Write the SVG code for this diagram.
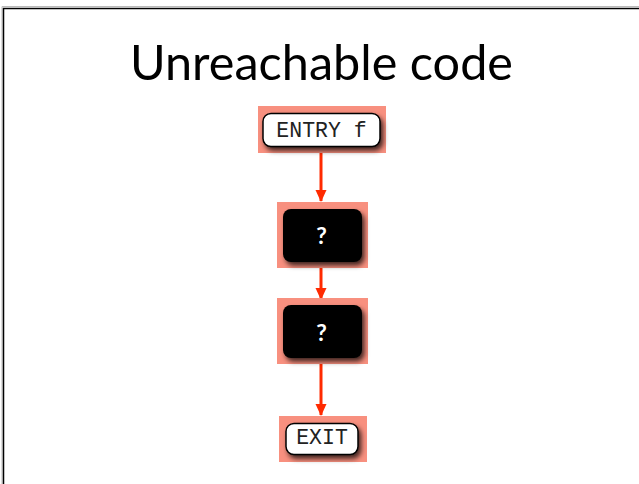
<svg xmlns="http://www.w3.org/2000/svg" width="639" height="484" viewBox="0 0 639 484">
<style>
  .hl { fill: #f8907f; }
  .wbox { fill: #ffffff; stroke: #000000; stroke-width: 1.5; filter: url(#sh); }
  .bbox { fill: #000000; filter: url(#sh); }
  .mono { font-family: "Liberation Mono", "Courier New", monospace; font-size: 21.5px; fill: #222222; text-anchor: middle; }
  .q { font-family: "Lato", "DejaVu Sans", sans-serif; font-size: 23px; font-weight: bold; fill: #ffffff; text-anchor: middle; }
  .edge { stroke: #ff2a00; stroke-width: 3; fill: none; marker-end: url(#ah); }
</style>
<defs>
  <filter id="sh" x="-20%" y="-30%" width="150%" height="170%">
    <feDropShadow dx="2.5" dy="3.5" stdDeviation="2.5" flood-color="#000000" flood-opacity="0.75"/>
  </filter>
  <marker id="ah" markerWidth="12" markerHeight="12" refX="11" refY="6" orient="auto" markerUnits="userSpaceOnUse">
    <path d="M0,0.5 L12,6 L0,11.5 Z" fill="#ff2a00"/>
  </marker>
</defs>
<rect width="639" height="484" fill="#ffffff"/>
<g id="frame">
  <path d="M2,484 V6.5 H639" stroke="#bbbbbb" stroke-width="1" fill="none"/>
  <path d="M3.5,484 V8.5 H639" stroke="#000000" stroke-width="1.5" fill="none"/>
</g>
<text id="title" x="321.5" y="80" font-family="Lato, 'Open Sans', sans-serif" font-size="48" fill="#000000" text-anchor="middle" textLength="383" lengthAdjust="spacingAndGlyphs">Unreachable code</text>
<g id="connectors">
  <line class="edge" x1="321" y1="153" x2="321" y2="201"/>
  <line class="edge" x1="321" y1="268" x2="321" y2="299"/>
  <line class="edge" x1="321" y1="364" x2="321" y2="415"/>
</g>
<g id="entry">
  <rect class="hl" x="258" y="106" width="128" height="47"/>
  <rect class="wbox" x="263" y="113.5" width="117" height="33" rx="8"/>
  <text class="mono" x="321.5" y="137">ENTRY f</text>
</g>
<g id="q1">
  <rect class="hl" x="277" y="202" width="91" height="66"/>
  <rect class="bbox" x="283" y="209" width="79" height="53" rx="8"/>
  <text class="q" x="321.5" y="244">?</text>
</g>
<g id="q2">
  <rect class="hl" x="277" y="298" width="91" height="66"/>
  <rect class="bbox" x="283" y="305" width="79" height="53" rx="8"/>
  <text class="q" x="321.5" y="341">?</text>
</g>
<g id="exit">
  <rect class="hl" x="279" y="416" width="88" height="46"/>
  <rect class="wbox" x="286" y="423.5" width="72" height="31" rx="8"/>
  <text class="mono" x="322" y="444">EXIT</text>
</g>
</svg>
